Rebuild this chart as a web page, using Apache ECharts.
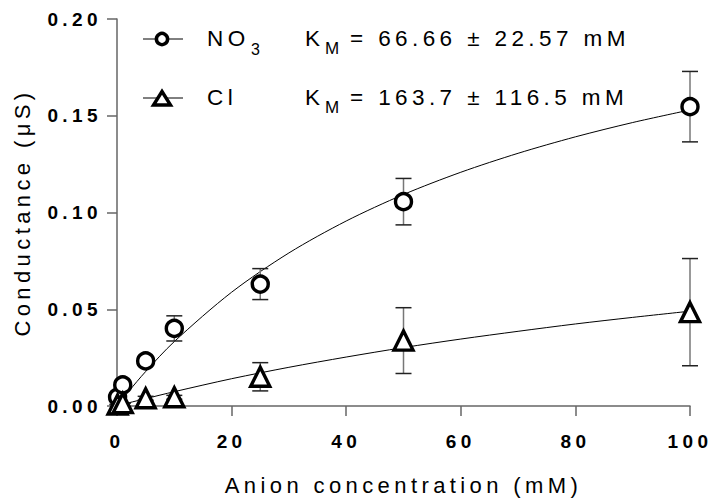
<!DOCTYPE html>
<html>
<head>
<meta charset="utf-8">
<script src="https://cdn.jsdelivr.net/npm/echarts@6/dist/echarts.min.js"></script>
<style>
html,body{margin:0;padding:0;background:#fff;}
#chart{width:711px;height:504px;}
#chart text{letter-spacing:4.4px;}
</style>
</head>
<body>
<div id="chart"></div>
<script>
// ---- data ----
var no3Conc = [0.1, 1, 5, 10, 25, 50, 100];
var no3Mean = [0.0046, 0.0109, 0.0233, 0.0401, 0.0630, 0.1056, 0.1547];
var no3Err  = [0.0010, 0.0010, 0.0015, 0.0065, 0.0080, 0.0120, 0.0182];

var clConc = [0.1, 1, 5, 10, 25, 50, 100];
var clMean = [0.0008, 0.0015, 0.0040, 0.0045, 0.0151, 0.0338, 0.0485];
var clErr  = [0.0000, 0.0000, 0.0010, 0.0010, 0.0073, 0.0170, 0.0277];

// fitted curves
var fitX      = [0, 2, 5, 10, 20, 30, 40, 50, 60, 70, 80, 90, 100];
var no3Fit    = [0, 0.0074, 0.0178, 0.0333, 0.0588, 0.0791, 0.0956, 0.1093, 0.1208, 0.1306, 0.1391, 0.1465, 0.1530];
var clFit     = [0, 0.0016, 0.0038, 0.0074, 0.0141, 0.0200, 0.0253, 0.0302, 0.0346, 0.0386, 0.0424, 0.0458, 0.0490];

var yTicks = [0, 0.05, 0.10, 0.15, 0.20];
var xTicks = [0, 20, 40, 60, 80, 100];
var legendNames = ['NO3', 'Cl'];
var kmTexts = ['= 66.66 \u00b1 22.57 mM', '= 163.7 \u00b1 116.5 mM'];

function pairs(xs, ys){ return xs.map(function(x,i){ return [x, ys[i]]; }); }
function errData(xs, ys, es){ return xs.map(function(x,i){ return [x, ys[i]-es[i], ys[i]+es[i]]; }); }

var FONT = 'Liberation Sans, Arial, sans-serif';
var LF = '22.5px ' + FONT;

function errRender(params, api){
  var x = api.value(0);
  var lo = api.coord([x, api.value(1)]);
  var hi = api.coord([x, api.value(2)]);
  var hw = 8;
  return {
    type: 'group',
    children: [
      {type:'line', shape:{x1:lo[0], y1:lo[1], x2:hi[0], y2:hi[1]}, style:{stroke:'#777', lineWidth:1.5}},
      {type:'line', shape:{x1:lo[0]-hw, y1:lo[1], x2:lo[0]+hw, y2:lo[1]}, style:{stroke:'#222', lineWidth:1.5}},
      {type:'line', shape:{x1:hi[0]-hw, y1:hi[1], x2:hi[0]+hw, y2:hi[1]}, style:{stroke:'#222', lineWidth:1.5}}
    ]
  };
}

var chart = echarts.init(document.getElementById('chart'), null, {renderer:'svg'});

chart.setOption({
  animation: false,
  backgroundColor: '#fff',
  grid: {left: 117, right: 21, top: 19, bottom: 98, containLabel: false},
  xAxis: {
    type: 'value', min: 0, max: 100, interval: 20,
    name: 'Anion concentration (mM)', nameLocation: 'middle', nameGap: 68,
    nameTextStyle: {fontFamily: FONT, fontSize: 22, color: '#000'},
    axisLine: {onZero:false, lineStyle: {color: '#666', width: 1.5}},
    axisTick: {show: true, length: 10, lineStyle: {color: '#666', width: 1.5}},
    axisLabel: {fontFamily: FONT, fontSize: 19, fontWeight: 'bold', color: '#000', margin: 26},
    splitLine: {show: false}
  },
  yAxis: {
    type: 'value', min: 0, max: 0.20, interval: 0.05,
    name: 'Conductance (\u03bcS)', nameLocation: 'middle', nameGap: 84,
    nameTextStyle: {fontFamily: FONT, fontSize: 22, color: '#000'},
    axisLine: {show: true, onZero:false, lineStyle: {color: '#666', width: 1.5}},
    axisTick: {show: true, length: 10, lineStyle: {color: '#666', width: 1.5}},
    axisLabel: {fontFamily: FONT, fontSize: 19, fontWeight: 'bold', color: '#000', margin: 15,
      formatter: function(v){ return v.toFixed(2); }},
    splitLine: {show: false}
  },
  graphic: [
    {type:'line', shape:{x1:143, y1:39, x2:183, y2:39}, style:{stroke:'#000', lineWidth:1}},
    {type:'circle', shape:{cx:162, cy:39, r:5.6}, style:{fill:'#fff', stroke:'#000', lineWidth:3.5}},
    {type:'text', left:207, top:27, style:{text:'NO', font:LF, fill:'#000'}},
    {type:'text', left:251, top:41, style:{text:'3', font:'16px ' + FONT, fill:'#000'}},
    {type:'text', left:305, top:27, style:{text:'K', font:LF, fill:'#000'}},
    {type:'text', left:325, top:40, style:{text:'M', font:'17px ' + FONT, fill:'#000'}},
    {type:'text', left:350, top:27, style:{text:kmTexts[0], font:LF, fill:'#000'}},

    {type:'line', shape:{x1:143, y1:98, x2:183, y2:98}, style:{stroke:'#000', lineWidth:1}},
    {type:'polygon', shape:{points:[[162,91.5],[170.5,105],[153.5,105]]}, style:{fill:'#fff', stroke:'#000', lineWidth:3.4}},
    {type:'text', left:207, top:86, style:{text:'Cl', font:LF, fill:'#000'}},
    {type:'text', left:305, top:86, style:{text:'K', font:LF, fill:'#000'}},
    {type:'text', left:325, top:99, style:{text:'M', font:'17px ' + FONT, fill:'#000'}},
    {type:'text', left:350, top:86, style:{text:kmTexts[1], font:LF, fill:'#000'}}
  ],
  series: [
    {name: 'NO3 fit', type: 'line', data: pairs(fitX, no3Fit), smooth: 0.3, showSymbol: false,
      lineStyle: {color: '#000', width: 1}, z: 2},
    {name: 'Cl fit', type: 'line', data: pairs(fitX, clFit), smooth: 0.3, showSymbol: false,
      lineStyle: {color: '#000', width: 1}, z: 2},
    {name: 'NO3 err', type: 'custom', renderItem: errRender, data: errData(no3Conc, no3Mean, no3Err), z: 3},
    {name: 'Cl err', type: 'custom', renderItem: errRender, data: errData(clConc, clMean, clErr), z: 3},
    {name: legendNames[0], type: 'scatter', data: pairs(no3Conc, no3Mean), symbol: 'circle', symbolSize: 16,
      itemStyle: {color: '#fff', borderColor: '#000', borderWidth: 3.4, opacity: 1}, z: 5},
    {name: legendNames[1], type: 'scatter', data: pairs(clConc, clMean), symbol: 'triangle', symbolSize: 19,
      itemStyle: {color: '#fff', borderColor: '#000', borderWidth: 3.4, opacity: 1}, z: 5}
  ]
});
</script>
</body>
</html>
